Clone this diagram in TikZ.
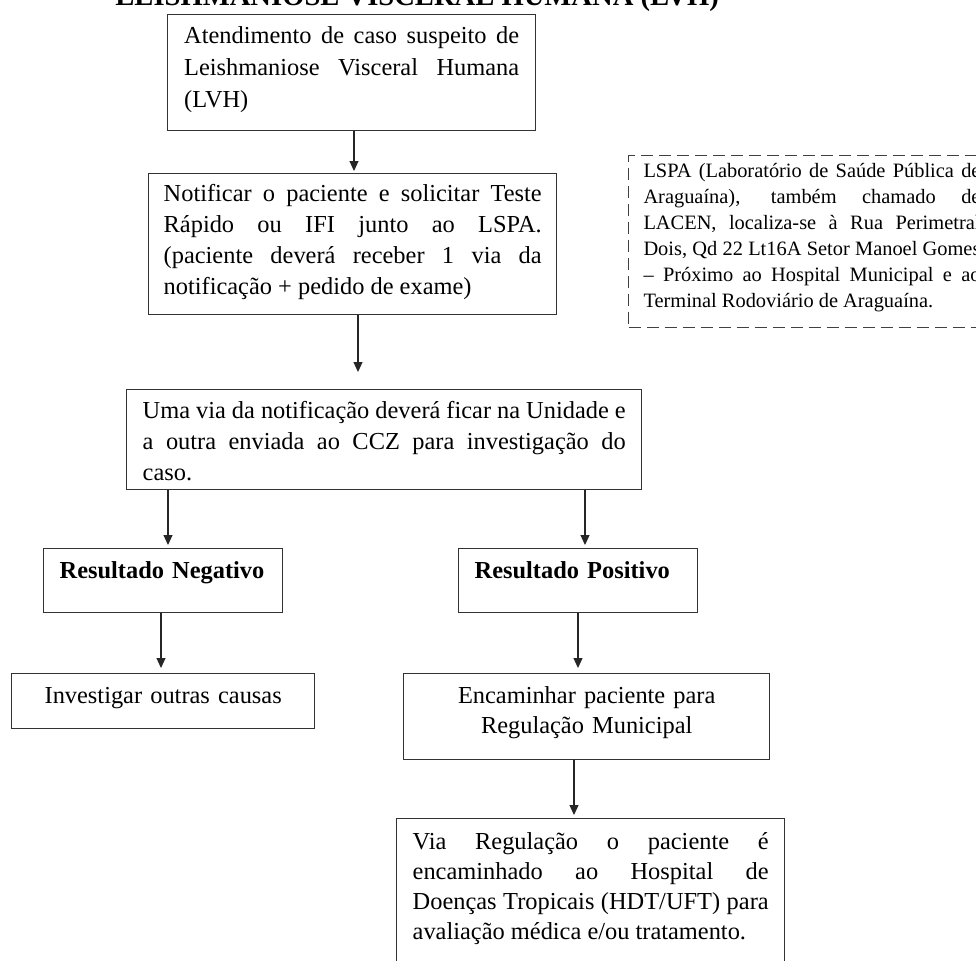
\documentclass[tikz,border=0pt]{standalone}
\usepackage{fontspec}
\setmainfont{Liberation Serif}
\usetikzlibrary{arrows.meta}
\begin{document}
\begin{tikzpicture}[x=1pt,y=1pt,
  boxst/.style={draw=black!80, line width=0.7pt, inner ysep=0pt, anchor=north west,
    font=\fontsize{12.2}{15.5}\selectfont},
  notest/.style={draw=black!75, line width=0.5pt, dash pattern=on 6pt off 3pt, inner ysep=0pt,
    anchor=north west, font=\fontsize{10.2}{13}\selectfont, align=justify},
  arr/.style={draw=black!85, line width=0.6pt, -{Triangle[length=5pt,width=4.5pt]}}]
\useasboundingbox (0,0) rectangle (488,-480);
\clip (0,0) rectangle (488,-480);

% cut-off title
\node[anchor=base west, inner sep=0pt, font=\bfseries\fontsize{14.3}{17}\selectfont] (title) at (57.5,-2.5)
  {LEISHMANIOSE VISCERAL HUMANA (LVH)};

\node[boxst, font=\fontsize{12.2}{16}\selectfont, align=justify, text width=167.5pt, inner xsep=8.25pt,
  text height=14.5pt, text depth=43.5pt] (b1) at (83.5,-7)
  {Atendimento de caso suspeito de\linebreak Leishmaniose Visceral Humana\linebreak (LVH)};

\node[boxst, align=justify, text width=189pt, inner xsep=7.5pt,
  text height=14pt, text depth=56.5pt] (b2) at (74,-86.5)
  {Notificar o paciente e solicitar Teste\linebreak Rápido ou IFI junto ao LSPA.\linebreak (paciente deverá receber 1 via da\linebreak notificação + pedido de exame)};

\node[notest, text width=168.5pt, inner xsep=7.5pt, text height=11pt, text depth=75pt] (lspa) at (314,-77.5)
  {LSPA (Laboratório de Saúde Pública de\linebreak Araguaína), também chamado de\linebreak LACEN, localiza-se à Rua Perimetral\linebreak Dois, Qd 22 Lt16A Setor Manoel Gomes\linebreak – Próximo ao Hospital Municipal e ao\linebreak Terminal Rodoviário de Araguaína.};

\node[boxst, align=justify, text width=241.5pt, inner xsep=8pt,
  text height=14.5pt, text depth=35.5pt] (b3) at (63,-194.5)
  {Uma via da notificação deverá ficar na Unidade e\linebreak a outra enviada ao CCZ para investigação do\linebreak caso.};

\node[boxst, font=\bfseries\fontsize{12.2}{15.5}\selectfont, align=left, text width=103.5pt, inner xsep=8pt,
  text height=15pt, text depth=17pt] (neg) at (21.5,-274) {Resultado Negativo};

\node[boxst, font=\bfseries\fontsize{12.2}{15.5}\selectfont, align=left, text width=103.5pt, inner xsep=8pt,
  text height=15pt, text depth=17pt] (pos) at (229,-274) {Resultado Positivo};

\node[boxst, align=center, text width=135.5pt, inner xsep=8pt,
  text height=15pt, text depth=12.5pt] (inv) at (5.5,-336.5) {Investigar outras causas};

\node[boxst, font=\fontsize{12.2}{15}\selectfont, align=center, text width=167pt, inner xsep=8pt,
  text height=15pt, text depth=28pt] (enc) at (201.5,-336.5) {Encaminhar paciente para\\Regulação Municipal};

\node[boxst, font=\fontsize{12.2}{15}\selectfont, align=justify, text width=178pt, inner xsep=8pt,
  text height=15.5pt, text depth=66.5pt] (via) at (198,-409)
  {Via Regulação o paciente é\linebreak encaminhado ao Hospital de\linebreak Doenças Tropicais (HDT/UFT) para\linebreak avaliação médica e/ou tratamento.};

% arrow columns
\coordinate (c1) at (177,0);
\coordinate (c2) at (179,0);
\coordinate (c3) at (84,0);
\coordinate (c4) at (292.5,0);
\coordinate (c5) at (80.5,0);
\coordinate (c6) at (289,0);
\coordinate (c7) at (287,0);

\draw[arr, shorten >=1pt] (b1.south -| c1) -- (b2.north -| c1);
\draw[arr, shorten >=8.5pt] (b2.south -| c2) -- (b3.north -| c2);
\draw[arr, shorten >=1.5pt] (b3.south -| c3) -- (neg.north -| c3);
\draw[arr, shorten >=1.5pt] (b3.south -| c4) -- (pos.north -| c4);
\draw[arr, shorten >=2.5pt] (neg.south -| c5) -- (inv.north -| c5);
\draw[arr, shorten >=2.5pt] (pos.south -| c6) -- (enc.north -| c6);
\draw[arr, shorten >=1.5pt] (enc.south -| c7) -- (via.north -| c7);
\end{tikzpicture}
\end{document}
